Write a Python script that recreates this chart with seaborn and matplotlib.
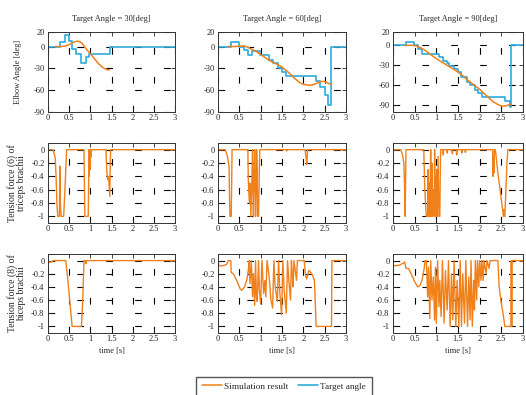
import matplotlib
matplotlib.use("Agg")
import matplotlib.pyplot as plt
import seaborn as sns
import pandas as pd

# ---------------- data ----------------
TARGET_ANGLES = [30, 60, 90]
TIME_TICKS = [0, 0.5, 1, 1.5, 2, 2.5, 3]
TIME_LABELS = ["0", "0.5", "1", "1.5", "2", "2.5", "3"]
ANGLE_TICKS = [-90, -60, -30, 0, 20]
ANGLE_LABELS = ["-90", "-60", "-30", "0", "20"]
FORCE_TICKS = [-1, -0.8, -0.6, -0.4, -0.2, 0]
FORCE_LABELS = ["-1", "-0.8", "-0.6", "-0.4", "-0.2", "0"]

# target angle (step, steps-post)
target30_t = [0, 0.28, 0.39, 0.49, 0.57, 0.66, 0.77, 0.89, 0.97, 1.46, 3.0]
target30_v = [0, 6, 16, 8, -3, -10, -22, -15, -10, 0, 0]
target60_t = [0, 0.30, 0.50, 0.62, 0.70, 0.80, 0.98, 1.20, 1.30, 1.40, 1.50, 1.60, 2.30, 2.40, 2.50, 2.57, 2.64, 3.0]
target60_v = [0, 6, 0, -5, -12, -6, -12, -18, -22, -30, -35, -40, -48, -56, -66, -80, 0, 0]
target90_t = [0, 0.29, 0.48, 0.58, 0.68, 1.05, 1.16, 1.24, 1.30, 1.40, 1.50, 1.58, 1.70, 1.78, 1.90, 1.97, 2.05, 2.58, 2.69, 2.73, 3.0]
target90_v = [0, 4.5, 0, -5, -13, -18, -23, -27, -31, -35, -40, -47, -55, -60, -67, -71, -77, -83, -92, 0, 0]

# simulated elbow angle
sim30_t = [0.17, 0.30, 0.40, 0.50, 0.60, 0.70, 0.80, 0.90, 1.00, 1.10, 1.20, 1.30, 1.40, 1.45]
sim30_v = [0, 0, 0.5, 2.5, 6, 7.5, 5, -3, -10, -17, -24, -29, -32, -32]
sim60_t = [0.23, 0.40, 0.50, 0.60, 0.70, 0.80, 0.90, 1.00, 1.10, 1.20, 1.30, 1.40, 1.50, 1.60, 1.70, 1.80,
           1.90, 2.00, 2.10, 2.20, 2.30, 2.40, 2.50, 2.60, 2.64]
sim60_v = [0, 0, 0.5, 1, -1, -4, -7, -11, -15, -19, -22, -25, -28, -33, -38, -44,
           -49, -52, -53, -53, -51, -48, -48, -51, -52]
sim90_t = [0.28, 0.45, 0.55, 0.65, 0.75, 0.85, 1.00, 1.10, 1.20, 1.30, 1.40, 1.50, 1.60, 1.70, 1.80,
           1.90, 2.00, 2.10, 2.20, 2.30, 2.40, 2.50, 2.60, 2.68, 2.73]
sim90_v = [0, 0, -1, -4, -8, -13, -20, -24, -28, -32, -36, -40, -45, -51, -56,
           -61, -66, -72, -78, -84, -88, -91, -91, -89, -88]

# tension force (6) of triceps brachii: (time, value)
triceps30 = [(0, 0), (0.12, 0), (0.17, -0.12), (0.19, -0.4), (0.21, -0.8), (0.23, -1), (0.27, -1),
             (0.275, -0.6), (0.28, -0.25), (0.29, -0.8), (0.31, -1), (0.37, -1), (0.40, -0.6),
             (0.44, 0), (0.85, 0), (0.87, -1), (0.95, -1), (0.96, -0.5), (0.97, 0), (0.975, -0.4),
             (0.98, -0.1), (0.99, -0.3), (1.00, 0), (1.01, -0.12), (1.02, 0), (1.37, 0), (1.39, -0.35),
             (1.41, -0.45), (1.43, -0.4), (1.46, -0.7), (1.47, -0.2), (1.48, 0), (3.0, 0)]
triceps60 = [(0, 0), (0.17, 0), (0.22, -0.1), (0.26, -0.25), (0.27, -0.7), (0.28, -1), (0.31, -1),
             (0.33, 0), (0.70, 0), (0.71, -0.45), (0.735, -0.8), (0.75, -0.5), (0.77, -1), (0.79, -0.6),
             (0.81, 0), (0.83, -1), (0.84, -0.55), (0.86, 0), (0.87, -0.5), (0.88, -1), (0.895, -0.6),
             (0.905, 0), (0.92, -0.35), (0.93, -1), (0.95, -1), (0.97, -0.3), (0.98, 0), (1.60, 0),
             (1.61, -0.02), (1.62, 0), (2.04, 0), (2.07, -0.15), (2.08, -0.22), (2.10, 0), (3.0, 0)]
triceps90 = [(0, 0), (0.18, 0), (0.22, -0.08), (0.25, -0.2), (0.27, -0.6), (0.28, -1), (0.29, -0.5),
             (0.30, 0), (0.71, 0), (0.73, -0.5), (0.75, -0.8), (0.77, -1), (0.80, -1), (0.81, -0.3),
             (0.82, -1), (0.84, -0.5), (0.85, -1), (0.87, 0), (0.88, -1), (0.90, -0.2), (0.91, -1),
             (0.93, -0.6), (0.95, -1), (0.96, 0), (0.98, -1), (0.99, -0.65), (1.01, -0.3), (1.02, -1),
             (1.04, -0.1), (1.06, -1), (1.08, -1), (1.09, -0.4), (1.10, 0), (1.15, 0), (1.16, -0.08),
             (1.17, 0), (1.24, 0), (1.25, -0.05), (1.26, 0), (1.36, 0), (1.37, -0.06), (1.38, 0),
             (1.46, 0), (1.47, -0.08), (1.48, 0), (1.58, 0), (1.59, -0.05), (1.60, 0), (1.66, 0),
             (1.67, -0.04), (1.68, 0), (2.30, 0), (2.31, -0.4), (2.32, -0.1), (2.33, -0.35), (2.34, 0),
             (2.36, 0), (2.38, -0.1), (2.42, -0.35), (2.46, -0.55), (2.50, -0.75), (2.53, -0.9),
             (2.55, -1), (2.56, -0.9), (2.57, -1), (2.58, -1), (2.60, -0.7), (2.63, -0.2), (2.65, 0),
             (3.0, 0)]

# tension force (8) of biceps brachii: (time, value)
biceps30 = [(0, 0), (0.02, -0.03), (0.06, -0.02), (0.10, -0.02), (0.12, 0), (0.42, 0), (0.47, -0.3),
            (0.52, -0.65), (0.57, -1), (0.79, -1), (0.82, -0.6), (0.85, 0), (0.88, 0), (0.90, -0.05),
            (0.91, 0), (3.0, 0)]
biceps60 = [(0, 0), (0.02, -0.08), (0.10, -0.08), (0.20, -0.06), (0.24, 0), (0.30, 0), (0.31, -0.18),
            (0.36, -0.2), (0.45, -0.32), (0.52, -0.43), (0.56, -0.45), (0.62, -0.4), (0.68, -0.28),
            (0.71, -0.15), (0.73, 0), (0.75, -0.35), (0.78, 0), (0.81, -0.55), (0.83, -0.2), (0.86, -0.68),
            (0.88, 0), (0.90, -0.55), (0.92, -0.62), (0.95, 0), (0.97, -0.45), (1.00, -0.66), (1.03, 0),
            (1.07, -0.5), (1.10, -0.3), (1.12, -0.55), (1.15, 0), (1.20, -0.25), (1.24, -0.6),
            (1.28, -0.72), (1.31, 0), (1.34, -0.4), (1.39, -0.62), (1.42, 0), (1.45, -0.5), (1.49, -0.82),
            (1.52, 0), (1.55, -0.45), (1.60, -0.8), (1.63, 0), (1.66, -0.3), (1.70, -0.6), (1.72, 0),
            (1.74, -0.2), (1.76, -0.4), (1.78, 0), (1.81, -0.15), (1.84, -0.3), (1.86, 0), (2.02, 0),
            (2.05, -0.22), (2.08, -0.28), (2.13, -0.15), (2.20, -0.2), (2.26, -0.3), (2.30, -1),
            (2.66, -1), (2.67, 0), (3.0, 0)]
biceps90 = [(0, -0.03), (0.02, -0.08), (0.15, -0.07), (0.20, -0.05), (0.24, -0.04), (0.27, -0.02),
            (0.30, -0.12), (0.36, -0.12), (0.42, -0.2), (0.50, -0.32), (0.57, -0.4), (0.62, -0.38),
            (0.67, -0.3), (0.72, -0.12), (0.74, 0), (0.77, 0), (0.80, -0.55), (0.82, -0.1), (0.85, -0.88),
            (0.87, 0), (0.90, -0.6), (0.93, -0.25), (0.96, -0.9), (0.98, -0.1), (1.00, -0.95), (1.03, 0),
            (1.06, -0.7), (1.08, -0.3), (1.11, -0.85), (1.14, 0), (1.18, -0.95), (1.21, -0.15),
            (1.25, -0.75), (1.28, 0), (1.32, -1), (1.35, -0.2), (1.38, -0.9), (1.41, 0), (1.45, -1),
            (1.48, -0.3), (1.52, -1), (1.55, 0), (1.58, -1), (1.61, -0.2), (1.65, -0.95), (1.68, 0),
            (1.72, -1), (1.75, -0.25), (1.78, -0.9), (1.80, 0), (1.83, -1), (1.86, -0.3), (1.88, -0.75),
            (1.90, 0), (1.93, -0.6), (1.95, 0), (1.98, -0.4), (2.00, 0), (2.03, -0.3), (2.05, 0),
            (2.08, -0.3), (2.10, 0), (2.15, -0.2), (2.17, 0), (2.22, -0.12), (2.24, 0), (2.42, 0),
            (2.45, -0.4), (2.50, -0.65), (2.55, -0.85), (2.58, -1), (2.72, -1), (2.73, 0), (2.74, -1),
            (2.75, 0), (3.0, 0)]

targets = [(target30_t, target30_v), (target60_t, target60_v), (target90_t, target90_v)]
sims = [(sim30_t, sim30_v), (sim60_t, sim60_v), (sim90_t, sim90_v)]
triceps = [triceps30, triceps60, triceps90]
biceps = [biceps30, biceps60, biceps90]
ANGLE_YLIMS = [(-90, 20), (-90, 20), (-100, 20)]

# ---------------- style ----------------
sns.set_theme(style="ticks")
plt.rcParams["font.family"] = ["Liberation Serif", "DejaVu Serif"]
plt.rcParams.update({
    "xtick.direction": "in", "ytick.direction": "in",
    "xtick.top": True, "ytick.right": True,
    "xtick.major.size": 3, "ytick.major.size": 3,
    "xtick.major.width": 0.6, "ytick.major.width": 0.6,
    "xtick.labelsize": 6, "ytick.labelsize": 6,
    "xtick.major.pad": 1.5, "ytick.major.pad": 2.5,
    "axes.linewidth": 0.7, "axes.edgecolor": "#333333",
    "xtick.color": "#222222", "ytick.color": "#222222",
})

ORANGE = "#F0801A"
BLUE = "#2EAADC"

W, H = 526, 395
fig = plt.figure(figsize=(W / 100, H / 100), dpi=100)
lefts = [48, 218, 393]
widths = [127, 128, 130]
tops = [32, 143, 254]
heights = [80, 80, 79]


def make_ax(r, c):
    return fig.add_axes([lefts[c] / W, 1 - (tops[r] + heights[r]) / H, widths[c] / W, heights[r] / H])


def style_ax(ax):
    ax.set_xlim(0, 3)
    ax.set_xticks(TIME_TICKS)
    ax.set_xticklabels(TIME_LABELS)
    ax.grid(True, color="black", linestyle=(0, (6, 20)), linewidth=0.8)
    ax.set_axisbelow(True)
    ax.set_xlabel("")
    ax.set_ylabel("")


handles = None
for c in range(3):
    # row 1: elbow angle
    ax = make_ax(0, c)
    tt, tv = targets[c]
    st, sv = sims[c]
    sns.lineplot(x=tt, y=tv, ax=ax, color=BLUE, lw=1.2, drawstyle="steps-post",
                 estimator=None, sort=False, label="Target angle")
    sns.lineplot(x=st, y=sv, ax=ax, color=ORANGE, lw=1.1,
                 estimator=None, sort=False, label="Simulation result")
    if c == 0:
        h, l = ax.get_legend_handles_labels()
        handles = (h, l)
    ax.get_legend().remove()
    style_ax(ax)
    ax.set_ylim(*ANGLE_YLIMS[c])
    ax.set_yticks(ANGLE_TICKS)
    ax.set_yticklabels(ANGLE_LABELS)
    ax.set_title(f"Target Angle = {TARGET_ANGLES[c]}[deg]", fontsize=6, pad=8)
    if c == 0:
        ax.set_ylabel("Elbow Angle [deg]", fontsize=6, labelpad=8)

    # rows 2, 3: tension forces
    for r, series, lab in [(1, triceps, "Tension force (6) of\ntriceps brachii"),
                           (2, biceps, "Tension force (8) of\nbiceps brachii")]:
        ax = make_ax(r, c)
        df = pd.DataFrame(series[c], columns=["time", "force"])
        sns.lineplot(data=df, x="time", y="force", ax=ax, color=ORANGE, lw=1.0,
                     estimator=None, sort=False)
        style_ax(ax)
        ax.set_ylim(-1.1, 0.1)
        ax.set_yticks(FORCE_TICKS)
        ax.set_yticklabels(FORCE_LABELS)
        if c == 0:
            ax.set_ylabel(lab, fontsize=7, linespacing=1.0, labelpad=4)
        if r == 2:
            ax.set_xlabel("time [s]", fontsize=6, labelpad=3)

h, l = handles
order = [l.index("Simulation result"), l.index("Target angle")]
fig.legend([h[i] for i in order], [l[i] for i in order], loc="upper center",
           bbox_to_anchor=(284 / W, 1 - 372 / H), ncol=2, frameon=True, fancybox=False,
           edgecolor="#555555", fontsize=6.7, handlelength=2.2, handletextpad=0.2,
           columnspacing=1.0, borderpad=0.6, framealpha=1)

fig.savefig("out.png", dpi=100)
